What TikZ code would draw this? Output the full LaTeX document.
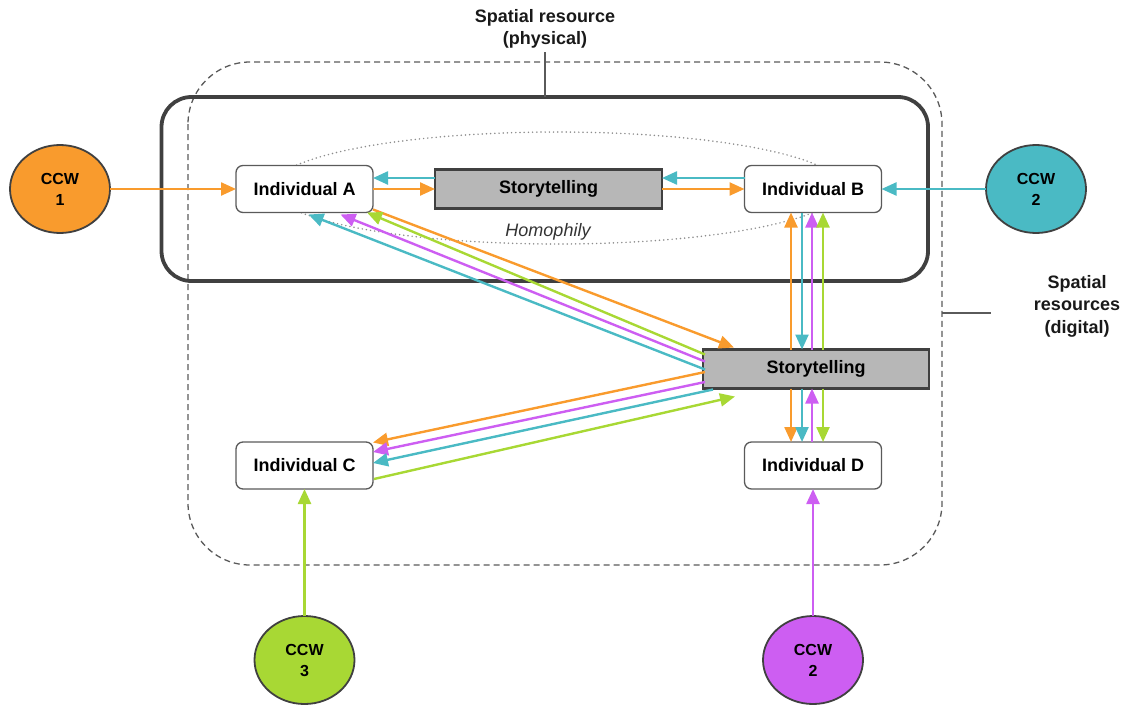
\documentclass[tikz,border=0pt]{standalone}
\usepackage{fontspec}
\setmainfont{Liberation Sans}
\usetikzlibrary{arrows.meta,calc,shapes.geometric}
\definecolor{corange}{HTML}{F99B2D}
\definecolor{cteal}{HTML}{4ABAC4}
\definecolor{cgreen}{HTML}{A8D834}
\definecolor{cmag}{HTML}{CD5EF2}
\definecolor{cbox}{HTML}{B7B7B7}
\definecolor{cdark}{HTML}{404040}
\definecolor{cline}{HTML}{5A5A5A}
\tikzset{
  indiv/.style={draw=cline, line width=1.3pt, fill=white, rounded corners=7pt,
    minimum width=137pt, minimum height=47pt, inner sep=0pt, outer sep=0pt,
    font=\fontsize{18}{22}\selectfont\bfseries},
  storybox/.style={draw=cdark, line width=2.2pt, fill=cbox,
    minimum height=39pt, inner sep=0pt, outer sep=0pt,
    font=\fontsize{18}{22}\selectfont\bfseries},
  ccw/.style={ellipse, draw=cdark, line width=1.8pt, minimum width=100pt,
    minimum height=88pt, inner sep=0pt, outer sep=0pt, align=center,
    font=\fontsize{16}{21}\selectfont\bfseries},
  lbl/.style={align=center, font=\fontsize{18}{22.5}\selectfont\bfseries, text=black!90},
  conn/.style={line width=2.4pt, -{Triangle[length=15pt,width=13pt]}},
}
\begin{document}
\begin{tikzpicture}[x=1pt,y=-1pt]
\useasboundingbox (0,0) rectangle (1126,704);
% regions
\draw[cline, line width=1.3pt, dash pattern=on 6pt off 4pt, rounded corners=62pt]
  (188,62) rectangle (942,565);
\draw[cdark, line width=3.8pt, rounded corners=30pt] (161.5,97) rectangle (928,281);
\draw[gray!90, line width=1.7pt, dash pattern=on 0pt off 4.2pt, line cap=round]
  (557,188) ellipse [x radius=285pt, y radius=56pt];
\node[font=\fontsize{18}{22}\selectfont\itshape, text=black!80] (homo) at (548,232) {Homophily};
% labels
\node[lbl] (phys) at (545,29) {Spatial resource\\(physical)};
\coordinate (physA) at (545,52);
\coordinate (physB) at (545,97);
\draw[cline, line width=1.5pt] (physA) -- (physB);
\node[lbl] (digi) at (1077,306) {Spatial\\resources\\(digital)};
\coordinate (digA) at (942,313);
\coordinate (digB) at (991,313);
\draw[cline, line width=1.5pt] (digA) -- (digB);
% nodes
\node[indiv] (A) at (304.5,189) {Individual A};
\node[storybox, minimum width=227pt] (S1) at (548.5,189) {Storytelling};
\node[indiv] (B) at (813,189) {Individual B};
\node[storybox, minimum width=226pt] (S2) at (816,369) {Storytelling};
\node[indiv] (C) at (304.5,465.5) {Individual C};
\node[indiv] (D) at (813,465.5) {Individual D};
\node[ccw, fill=corange] (K1) at (60,189) {CCW\\1};
\node[ccw, fill=cteal] (K2) at (1036,189) {CCW\\2};
\node[ccw, fill=cgreen] (K3) at (304.5,660) {CCW\\3};
\node[ccw, fill=cmag] (K4) at (813,660) {CCW\\2};
% top row
\draw[conn, corange] (K1.east) -- (A.west);
\draw[conn, cteal] (K2.west) -- (B.east);
\draw[conn, cteal] ($(S1.west)+(0,-11)$) -- ($(A.east)+(0,-11)$);
\draw[conn, corange] (A.east) -- (S1.west);
\draw[conn, corange] (S1.east) -- (B.west);
\draw[conn, cteal] ($(B.west)+(0,-11)$) -- ($(S1.east)+(0,-11)$);
% A <-> S2
\draw[conn, corange] ($(A.south east)+(0,-3)$) -- ($(S2.north west)+(31,-2)$);
\draw[conn, cgreen] ($(S2.north west)+(2,5)$) -- ($(A.south east)+(-6,0)$);
\draw[conn, cmag] ($(S2.north west)+(2,12)$) -- ($(A.south)+(36,2)$);
\draw[conn, cteal] ($(S2.north west)+(2,20)$) -- ($(A.south)+(4,2)$);
% S2 <-> C
\draw[conn, corange] ($(S2.west)+(2,3)$) -- ($(C.north east)+(0,0.5)$);
\draw[conn, cmag] ($(S2.west)+(2,13)$) -- ($(C.east)+(0,-13.5)$);
\draw[conn, cteal] ($(S2.south west)+(10,1)$) -- ($(C.east)+(0,-2.5)$);
\draw[conn, cgreen] ($(C.east)+(1,13.5)$) -- ($(S2.south west)+(32,8)$);
% B <-> S2
\draw[conn, corange] ($(B.south |- S2.north)+(-22,0)$) -- ($(B.south)+(-22,0)$);
\draw[conn, cteal] ($(B.south)+(-11,0)$) -- ($(B.south |- S2.north)+(-11,0)$);
\draw[conn, cmag] ($(B.south |- S2.north)+(-1,0)$) -- ($(B.south)+(-1,0)$);
\draw[conn, cgreen] ($(B.south |- S2.north)+(10,0)$) -- ($(B.south)+(10,0)$);
% S2 <-> D
\draw[conn, corange] ($(D.north |- S2.south)+(-22,0)$) -- ($(D.north)+(-22,0)$);
\draw[conn, cteal] ($(D.north |- S2.south)+(-11,0)$) -- ($(D.north)+(-11,0)$);
\draw[conn, cmag] ($(D.north)+(-1,0)$) -- ($(D.north |- S2.south)+(-1,0)$);
\draw[conn, cgreen] ($(D.north |- S2.south)+(10,0)$) -- ($(D.north)+(10,0)$);
% bottom CCWs
\draw[conn, cgreen] (K3.north) -- (C.south);
\draw[conn, cmag] (K4.north) -- (D.south);
\end{tikzpicture}
\end{document}
